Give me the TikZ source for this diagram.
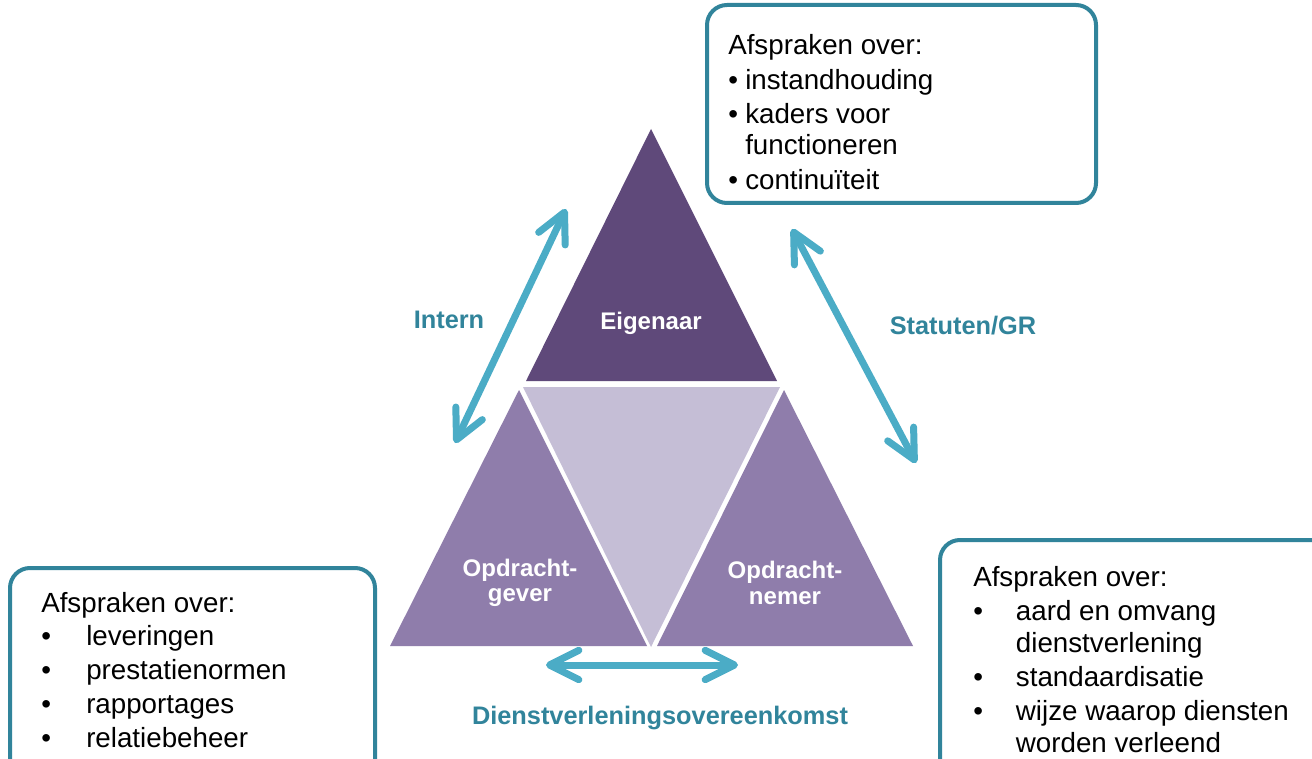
\documentclass[tikz,border=0pt]{standalone}
\usepackage{fontspec}
\setmainfont{Liberation Sans}
\usetikzlibrary{arrows.meta}

\definecolor{eigenpurple}{HTML}{5F497A}
\definecolor{partpurple}{HTML}{8F7DAB}
\definecolor{lightpurple}{HTML}{C5BED6}
\definecolor{arrowblue}{HTML}{4BACC6}
\definecolor{labelblue}{HTML}{31849B}

\tikzset{
  relarrow/.style={arrowblue, line width=5.25pt,
    {Straight Barb[length=22pt,width=22pt,round]}-{Straight Barb[length=22pt,width=22pt,round]}},
  rellabel/.style={labelblue, font=\fontsize{19}{22}\selectfont\bfseries},
  partlabel/.style={white, font=\fontsize{18}{19}\selectfont\bfseries, align=center},
  afsprakbox/.style={draw=labelblue, line width=3pt, rounded corners=15pt, fill=white},
  afspraktext/.style={anchor=base west, inner sep=0pt, font=\fontsize{20.8}{23.25}\selectfont},
}

\begin{document}
\begin{tikzpicture}[x=0.75pt,y=-0.75pt]
		\useasboundingbox (0,0) rectangle (1312,759);
		\clip (0,0) rectangle (1312,759);
		\fill[white] (0,0) rectangle (1312,759);

		%triangles
		\fill[eigenpurple] (651,129) -- (526,381) -- (777,381) -- cycle;
		\fill[lightpurple] (523,387) -- (780,387) -- (651,647) -- cycle;
		\fill[partpurple] (519,390) -- (390,646) -- (647,646) -- cycle;
		\fill[partpurple] (784,390) -- (657,646) -- (913,646) -- cycle;

		%parties
		\node[partlabel] (eigenaar) at (651,323) {Eigenaar};
		\node[partlabel] (gever) at (520,583) {Opdracht-\\gever};
		\node[partlabel] (nemer) at (785,583) {Opdracht-\\nemer};

		%relations
		\coordinate (internlaag) at (455,443);
		\coordinate (internhoog) at (566,209);
		\coordinate (statutenhoog) at (792,229);
		\coordinate (statutenlaag) at (916,463);
		\coordinate (dienstlinks) at (546,665);
		\coordinate (dienstrechts) at (738,665);
		\draw[relarrow] (internlaag) -- (internhoog);
		\draw[relarrow] (statutenhoog) -- (statutenlaag);
		\draw[relarrow] (dienstlinks) -- (dienstrechts);

		\node[rellabel] (intern) at (449,320) {Intern};
		\node[rellabel] (statuten) at (963,326) {Statuten/GR};
		\node[rellabel] (dienst) at (660,718) {Dienstverleningsovereenkomst};

		%agreements
		\draw[afsprakbox] (707,5) rectangle (1096,203);
		\node[afspraktext] (eigentekst) at (728,55) {\begin{tabular}[t]{@{}p{12.75pt}@{}l@{}}
			\multicolumn{2}{@{}l@{}}{Afspraken over:}\\[2.6pt]
			•&instandhouding\\[2.6pt]
			•&kaders voor\\
			&functioneren\\[2.6pt]
			•&continuïteit
		\end{tabular}};

		\draw[afsprakbox] (10,568) rectangle (375,790);
		\node[afspraktext] (gevertekst) at (41,612) {\begin{tabular}[t]{@{}p{33.75pt}@{}l@{}}
			\multicolumn{2}{@{}l@{}}{Afspraken over:}\\[2.2pt]
			•&leveringen\\[2.2pt]
			•&prestatienormen\\[2.2pt]
			•&rapportages\\[2.2pt]
			•&relatiebeheer
		\end{tabular}};

		\draw[afsprakbox] (940,540) rectangle (1340,790);
		\node[afspraktext] (nemertekst) at (973,586) {\begin{tabular}[t]{@{}p{32pt}@{}l@{}}
			\multicolumn{2}{@{}l@{}}{Afspraken over:}\\[2.25pt]
			•&aard en omvang\\[0.75pt]
			&dienstverlening\\[2.25pt]
			•&standaardisatie\\[2.25pt]
			•&wijze waarop diensten\\[0.75pt]
			&worden verleend
		\end{tabular}};
\end{tikzpicture}
\end{document}
